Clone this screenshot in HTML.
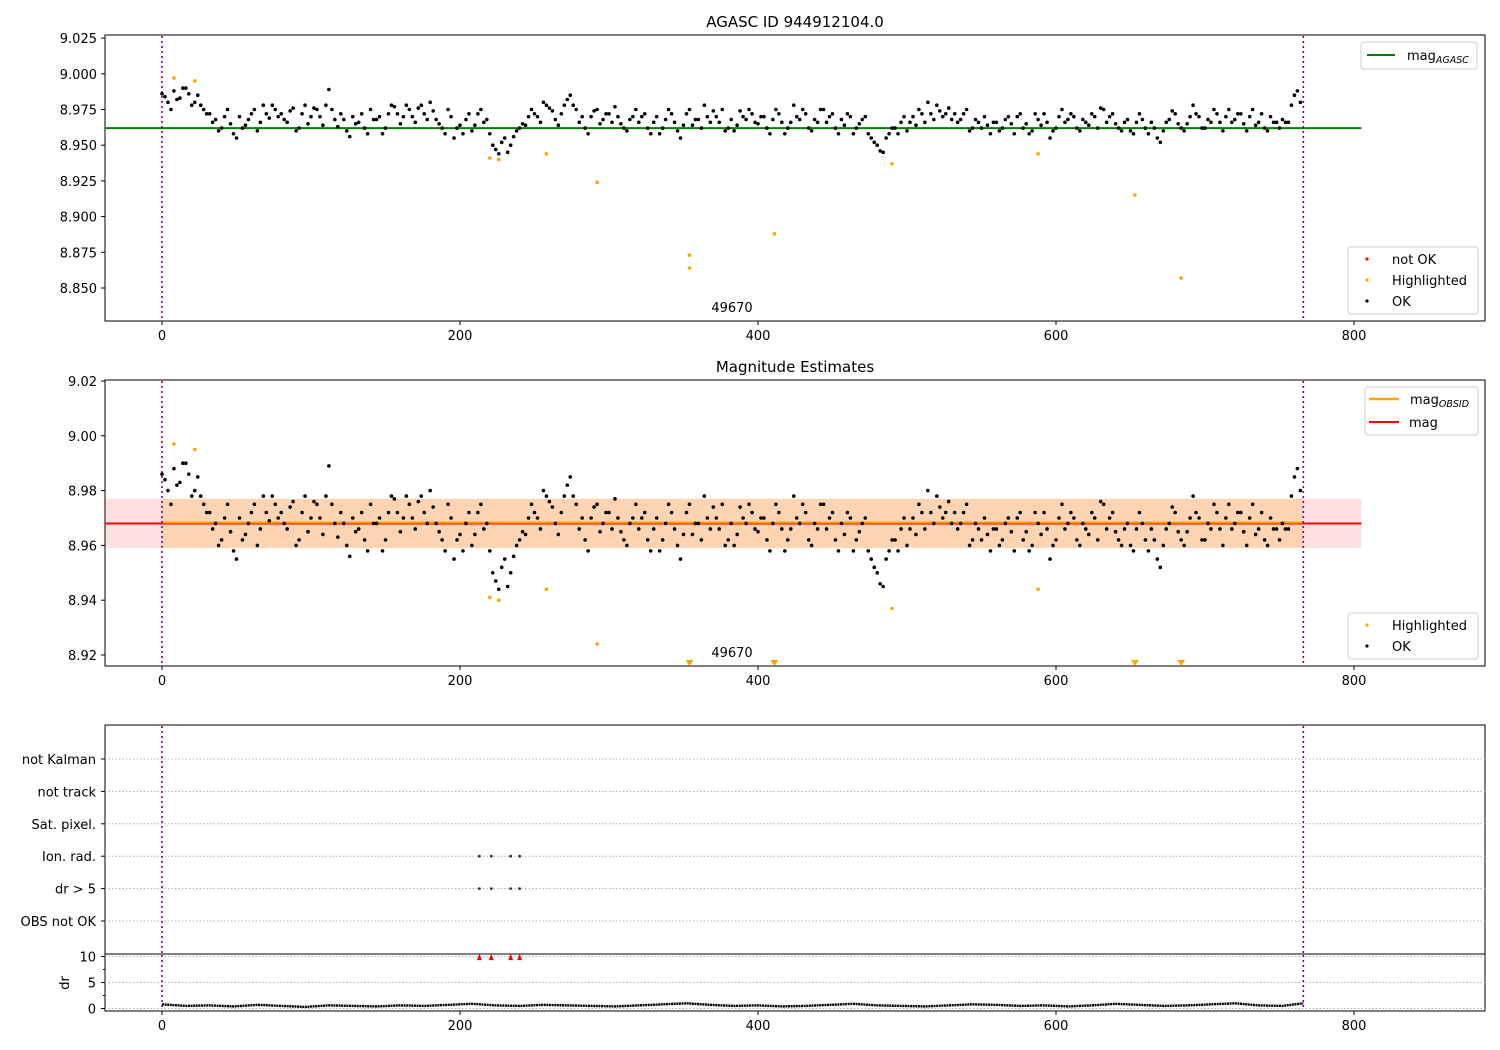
<!DOCTYPE html>
<html><head><meta charset="utf-8">
<style>
body{margin:0;background:#fff;}
svg{display:block;font-family:"DejaVu Sans","Liberation Sans",sans-serif;}
</style></head>
<body>
<svg id="c" width="1500" height="1050" xmlns="http://www.w3.org/2000/svg"></svg>
<script>
const magValues=[
8.986,8.980,8.988,8.983,8.990,8.978,8.985,8.975,8.972,8.968,8.962,8.975,8.958,8.970,8.964,8.972,8.960,8.978,8.969,8.975,
8.972,8.966,8.976,8.962,8.978,8.970,8.975,8.964,8.989,8.968,8.972,8.960,8.970,8.966,8.962,8.975,8.968,8.958,8.972,8.977,
8.965,8.978,8.970,8.976,8.972,8.980,8.968,8.962,8.975,8.955,8.964,8.968,8.960,8.972,8.966,8.958,8.947,8.952,8.945,8.956,
8.962,8.964,8.975,8.970,8.980,8.976,8.968,8.972,8.982,8.978,8.966,8.962,8.970,8.975,8.968,8.972,8.977,8.965,8.960,8.970,
8.966,8.972,8.958,8.970,8.962,8.975,8.966,8.955,8.972,8.964,8.968,8.978,8.966,8.970,8.975,8.962,8.960,8.974,8.968,8.972,
8.965,8.970,8.958,8.975,8.966,8.962,8.978,8.968,8.972,8.960,8.966,8.975,8.970,8.962,8.968,8.972,8.958,8.965,8.970,8.955,
8.950,8.945,8.958,8.962,8.966,8.960,8.970,8.975,8.966,8.972,8.978,8.970,8.976,8.972,8.968,8.975,8.962,8.966,8.970,8.958,
8.966,8.962,8.970,8.958,8.972,8.965,8.960,8.968,8.972,8.955,8.962,8.975,8.968,8.970,8.960,8.966,8.972,8.962,8.975,8.970,
8.965,8.960,8.968,8.958,8.972,8.962,8.966,8.955,8.960,8.968,8.972,8.962,8.965,8.978,8.970,8.962,8.966,8.972,8.960,8.975,
8.968,8.972,8.960,8.975,8.966,8.962,8.970,8.966,8.968,8.966,8.985,8.980];
const magValuesB=[
8.984,8.975,8.982,8.990,8.986,8.980,8.978,8.972,8.966,8.960,8.970,8.965,8.955,8.962,8.968,8.975,8.966,8.972,8.978,8.970,
8.968,8.974,8.960,8.972,8.965,8.976,8.970,8.978,8.975,8.963,8.968,8.956,8.965,8.972,8.958,8.968,8.970,8.962,8.978,8.972,
8.970,8.975,8.966,8.978,8.968,8.974,8.965,8.958,8.970,8.962,8.958,8.972,8.964,8.975,8.968,8.950,8.944,8.955,8.950,8.960,
8.965,8.970,8.972,8.966,8.978,8.974,8.964,8.978,8.985,8.975,8.970,8.958,8.974,8.965,8.972,8.966,8.970,8.962,8.968,8.975,
8.970,8.962,8.966,8.958,8.968,8.972,8.960,8.964,8.975,8.968,8.962,8.970,8.974,8.966,8.960,8.968,8.964,8.970,8.975,8.966,
8.970,8.962,8.968,8.972,8.958,8.966,8.970,8.975,8.962,8.968,8.975,8.966,8.972,8.958,8.964,8.970,8.962,8.968,8.958,8.952,
8.946,8.955,8.962,8.958,8.970,8.966,8.964,8.972,8.980,8.968,8.974,8.972,8.968,8.966,8.972,8.960,8.968,8.962,8.964,8.966,
8.960,8.968,8.965,8.970,8.962,8.958,8.972,8.964,8.966,8.960,8.970,8.966,8.972,8.962,8.968,8.964,8.970,8.976,8.966,8.972,
8.962,8.966,8.960,8.966,8.968,8.958,8.962,8.952,8.966,8.974,8.965,8.960,8.970,8.972,8.962,8.968,8.975,8.966,8.970,8.966,
8.972,8.965,8.970,8.964,8.972,8.960,8.966,8.962,8.966,8.978,8.988];
const magStep=4, magOffsetB=2;
const hlIndex=[8,22,220,226,258,292,354,354,411,490,588,653,684];
const hlMag=[8.997,8.995,8.941,8.940,8.944,8.924,8.873,8.864,8.888,8.937,8.944,8.915,8.857];
const flagIndex=[213,221,234,240];
const flagRows=["Ion. rad.","dr > 5"];
const catLabels=["not Kalman","not track","Sat. pixel.","Ion. rad.","dr > 5","OBS not OK"];
const drValues=[0.8,0.5,0.6,0.4,0.7,0.5,0.3,0.6,0.5,0.4,0.6,0.5,0.7,0.9,0.6,0.5,0.7,0.6,0.5,0.4,0.6,0.8,1.0,0.7,0.5,0.6,0.4,0.5,0.7,0.9,0.6,0.5,0.4,0.6,0.8,0.7,0.5,0.6,0.4,0.6,0.9,0.7,0.5,0.6,0.8,1.0,0.6,0.5,1.0];
const drStep=16;
const drOutIndex=[213,221,234,240];
const xTicks=[0,200,400,600,800];
const y1Ticks=[9.025,9.000,8.975,8.950,8.925,8.900,8.875,8.850];
const y2Ticks=[9.02,9.00,8.98,8.96,8.94,8.92];
const drTicks=[0,5,10];
const magAgasc=8.962, magMean=8.968, magLo=8.959, magHi=8.977;
const obsStart=0, obsEnd=766, lineEnd=805;

const S=document.getElementById('c');const NS='http://www.w3.org/2000/svg';
function el(t,a,p){const e=document.createElementNS(NS,t);for(const k in a)e.setAttribute(k,a[k]);(p||S).appendChild(e);return e;}
function tx(x,y,s,a,p){const e=el('text',Object.assign({x:x,y:y,'font-size':13,fill:'#000'},a||{}),p);e.textContent=s;return e;}
const X=v=>162+v*1.49;
const Y1=v=>288+(8.85-v)/0.025*35.7;
const Y2=v=>655-(v-8.92)/0.02*54.8;
const YC=i=>759+i*32.4;
const YD=v=>1008.5-v*5.2;

function frame(y0,y1,name){
  const g=el('g',{});
  el('rect',{x:105,y:y0,width:1380,height:y1-y0,fill:'none',stroke:'#000','stroke-width':1},g);
  xTicks.forEach(t=>{el('line',{x1:X(t),x2:X(t),y1:y1,y2:y1+4,stroke:'#000'},g);tx(X(t),y1+19,t,{'text-anchor':'middle'},g);});
  return g;
}
function vlines(y0,y1,g){[obsStart,obsEnd].forEach(v=>el('line',{x1:X(v),x2:X(v),y1:y0,y2:y1,stroke:'#800080','stroke-width':1.6,'stroke-dasharray':'2,3'},g));}
function dot(x,y,c,r,g,name){const e=el('circle',{cx:x,cy:y,r:r,fill:c},g);}
function allPoints(Yf,g){
  magValues.forEach((v,i)=>dot(X(i*magStep),Yf(v),'#000',1.8,g,'ok-point'));
  magValuesB.forEach((v,i)=>dot(X(i*magStep+magOffsetB),Yf(v),'#000',1.8,g,'ok-point'));
}

// Panel 1
let g=frame(35,321,'agasc-panel');
tx(795,27,'AGASC ID 944912104.0',{'text-anchor':'middle','font-size':15},g);
y1Ticks.forEach(t=>{el('line',{x1:101,x2:105,y1:Y1(t),y2:Y1(t),stroke:'#000'},g);tx(97,Y1(t)+5,t.toFixed(3),{'text-anchor':'end'},g);});
el('line',{x1:105,x2:X(lineEnd),y1:Y1(magAgasc),y2:Y1(magAgasc),stroke:'#008000','stroke-width':2},g);
vlines(36,320,g);
allPoints(Y1,g);
hlIndex.forEach((ix,i)=>dot(X(ix),Y1(hlMag[i]),'#ffa500',1.8,g,'highlighted-point'));
tx(732,312,'49670',{'text-anchor':'middle'},g);
let lg=el('g',{},g);
el('rect',{x:1361,y:42,width:116,height:27,rx:3,fill:'#fff',stroke:'#ccc'},lg);
el('line',{x1:1367,x2:1395,y1:55,y2:55,stroke:'#008000','stroke-width':2},lg);
const t1=tx(1407,60,'mag',{},lg);const s1=el('tspan',{'font-size':9.5,'font-style':'italic',dy:3},t1);s1.textContent='AGASC';
lg=el('g',{},g);
el('rect',{x:1348,y:247,width:130,height:67,rx:3,fill:'#fff',stroke:'#ccc'},lg);
[['#f00','not OK'],['#ffa500','Highlighted'],['#000','OK']].forEach((d,i)=>{el('circle',{cx:1367,cy:259+i*21,r:1.6,fill:d[0]},lg);tx(1392,264+i*21,d[1],{},lg);});

// Panel 2
g=frame(380,666,'estimates-panel');
tx(795,372,'Magnitude Estimates',{'text-anchor':'middle','font-size':15},g);
y2Ticks.forEach(t=>{el('line',{x1:101,x2:105,y1:Y2(t),y2:Y2(t),stroke:'#000'},g);tx(97,Y2(t)+5,t.toFixed(2),{'text-anchor':'end'},g);});
el('rect',{x:105,y:Y2(magHi),width:X(lineEnd)-105,height:Y2(magLo)-Y2(magHi),fill:'#ff0000','fill-opacity':0.12},g);
el('rect',{x:X(obsStart),y:Y2(magHi),width:X(obsEnd)-X(obsStart),height:Y2(magLo)-Y2(magHi),fill:'#ffa500','fill-opacity':0.2},g);
el('line',{x1:105,x2:X(lineEnd),y1:Y2(magMean),y2:Y2(magMean),stroke:'#f00','stroke-width':2},g);
el('line',{x1:X(obsStart),x2:X(obsEnd),y1:Y2(magMean)-1,y2:Y2(magMean)-1,stroke:'#ffa500','stroke-width':2},g);
vlines(381,665,g);
allPoints(Y2,g);
hlIndex.forEach((ix,i)=>{const v=hlMag[i];
  if(v<8.916){const x=X(ix);const p=el('path',{d:`M${x-4},${660} L${x+4},${660} L${x},${666} Z`,fill:'#ffa500'},g);}
  else dot(X(ix),Y2(v),'#ffa500',1.8,g,'highlighted-point');});
tx(732,657,'49670',{'text-anchor':'middle'},g);
lg=el('g',{},g);
el('rect',{x:1365,y:387,width:113,height:48,rx:3,fill:'#fff',stroke:'#ccc'},lg);
el('line',{x1:1369,x2:1399,y1:399,y2:399,stroke:'#ffa500','stroke-width':2.5},lg);
const t2=tx(1410,404,'mag',{},lg);const s2=el('tspan',{'font-size':9.5,'font-style':'italic',dy:3},t2);s2.textContent='OBSID';
el('line',{x1:1369,x2:1399,y1:422,y2:422,stroke:'#f00','stroke-width':2},lg);
tx(1409,427,'mag',{},lg);
lg=el('g',{},g);
el('rect',{x:1348,y:613,width:130,height:46,rx:3,fill:'#fff',stroke:'#ccc'},lg);
[['#ffa500','Highlighted'],['#000','OK']].forEach((d,i)=>{el('circle',{cx:1367,cy:625+i*21,r:1.6,fill:d[0]},lg);tx(1392,630+i*21,d[1],{},lg);});

// Panel 3
g=el('g',{});
el('rect',{x:105,y:725,width:1380,height:229,fill:'none',stroke:'#000'},g);
catLabels.forEach((c,i)=>{el('line',{x1:105,x2:1485,y1:YC(i),y2:YC(i),stroke:'#b0b0b0','stroke-dasharray':'1.5,2'},g);el('line',{x1:101,x2:105,y1:YC(i),y2:YC(i),stroke:'#000'},g);tx(96,YC(i)+5,c,{'text-anchor':'end'},g);});
flagRows.forEach(r=>{const ri=catLabels.indexOf(r);flagIndex.forEach(ix=>dot(X(ix),YC(ri),'#333',1.4,g,'flag-point'));});
vlines(726,953,g);
g=el('g',{});
el('rect',{x:105,y:954,width:1380,height:57,fill:'none',stroke:'#000'},g);
xTicks.forEach(t=>{el('line',{x1:X(t),x2:X(t),y1:1011,y2:1015,stroke:'#000'},g);tx(X(t),1030,t,{'text-anchor':'middle'},g);});
drTicks.forEach(t=>{el('line',{x1:105,x2:1485,y1:YD(t),y2:YD(t),stroke:'#b0b0b0','stroke-dasharray':'1.5,2'},g);el('line',{x1:101,x2:105,y1:YD(t),y2:YD(t),stroke:'#000'},g);tx(96,YD(t)+5,t,{'text-anchor':'end'},g);});
[2.5,7.5].forEach(t=>el('line',{x1:103,x2:105,y1:YD(t),y2:YD(t),stroke:'#000'},g));
const yl=tx(0,0,'dr',{'text-anchor':'middle',transform:'translate(69,983) rotate(-90)'},g);
vlines(955,1010,g);
let pts=drValues.map((v,i)=>X(Math.min(i*drStep,obsEnd))+','+YD(v)).join(' ');
el('polyline',{points:pts,fill:'none',stroke:'#000','stroke-width':2.4,'stroke-dasharray':'2,0.6'},g);
drOutIndex.forEach(ix=>{const x=X(ix);const p=el('path',{d:`M${x-2.5},${YD(9.3)} L${x+2.5},${YD(9.3)} L${x},${YD(10.5)} Z`,fill:'#f00'},g);});
</script>
</body></html>
